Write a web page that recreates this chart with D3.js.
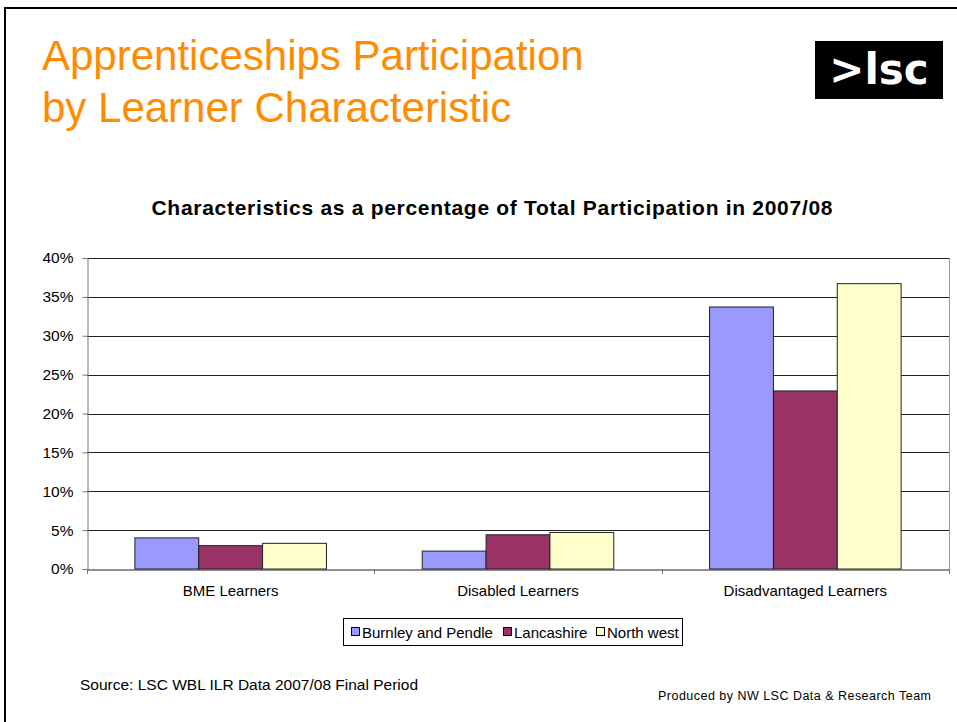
<!DOCTYPE html>
<html>
<head>
<meta charset="utf-8">
<script src="https://cdn.jsdelivr.net/npm/d3@7"></script>
<style>
  body { margin: 0; background: #fff; }
  svg { display: block; font-family: "Liberation Sans", Arial, sans-serif; }
</style>
</head>
<body>
<script>
// chart data
var categories = ['BME Learners', 'Disabled Learners', 'Disadvantaged Learners'];
var seriesNames = ['Burnley and Pendle', 'Lancashire', 'North west'];
var seriesColors = ['#9999FF', '#993366', '#FFFFCC'];
var burnley = [4.0, 2.3, 33.7];
var lancashire = [3.0, 4.4, 22.9];
var northWest = [3.3, 4.7, 36.7];
var yTicks = [0, 5, 10, 15, 20, 25, 30, 35, 40];

var svgWidth = 957;
var svgHeight = 722;

var svg = d3.select('body').append('svg')
  .attr('width', svgWidth)
  .attr('height', svgHeight);

// slide frame
svg.append('path')
  .attr('d', 'M5,722 L5,8 L957,8')
  .attr('fill', 'none')
  .attr('stroke', '#000')
  .attr('stroke-width', 2);

// slide title
var title = svg.append('text')
  .attr('fill', '#FF8C00')
  .style('font-size', '42px');
title.append('tspan').attr('x', 42).attr('y', 70).text('Apprenticeships Participation');
title.append('tspan').attr('x', 42).attr('y', 122).text('by Learner Characteristic');

// logo
svg.append('rect')
  .attr('x', 815).attr('y', 41)
  .attr('width', 128).attr('height', 58)
  .attr('fill', '#000');
svg.append('text')
  .attr('x', 879).attr('y', 84)
  .attr('text-anchor', 'middle')
  .attr('fill', '#fff')
  .style('font-size', '42px')
  .style('font-weight', 'bold')
  .style('font-family', 'Verdana, "DejaVu Sans", sans-serif')
  .text('>lsc');

// chart title
svg.append('text')
  .attr('x', 492).attr('y', 215)
  .attr('text-anchor', 'middle')
  .style('font-size', '21px')
  .style('font-weight', 'bold')
  .attr('textLength', 681)
  .text('Characteristics as a percentage of Total Participation in 2007/08');

var plot = { left: 87, right: 949, top: 258, bottom: 569 };

var y = d3.scaleLinear().domain([0, 40]).range([plot.bottom, plot.top]);
var x0 = d3.scaleBand().domain(categories).range([plot.left, plot.right]);
var bw = x0.bandwidth();
var x1 = d3.scaleBand().domain(seriesNames).range([bw / 6, bw * 5 / 6]);

// plot area right border
svg.append('line')
  .attr('x1', plot.right + 0.5).attr('x2', plot.right + 0.5)
  .attr('y1', plot.top).attr('y2', plot.bottom)
  .attr('stroke', '#999');

// gridlines
svg.selectAll('.grid')
  .data(yTicks.slice(1))
  .enter()
  .append('line')
  .attr('class', 'grid')
  .attr('x1', plot.left).attr('x2', plot.right)
  .attr('y1', function(d) { return Math.round(y(d)) + 0.5; })
  .attr('y2', function(d) { return Math.round(y(d)) + 0.5; })
  .attr('stroke', '#222');

// bars
var rows = categories.map(function(c, i) {
  return [burnley[i], lancashire[i], northWest[i]];
});

var groups = svg.selectAll('.cat')
  .data(rows)
  .enter()
  .append('g')
  .attr('class', 'cat')
  .attr('transform', function(d, i) { return 'translate(' + x0(categories[i]) + ',0)'; });

groups.selectAll('rect')
  .data(function(d) { return d; })
  .enter()
  .append('rect')
  .attr('x', function(d, i) { return x1(seriesNames[i]); })
  .attr('y', function(d) { return y(d); })
  .attr('width', x1.bandwidth())
  .attr('height', function(d) { return plot.bottom - y(d); })
  .attr('fill', function(d, i) { return seriesColors[i]; })
  .attr('stroke', '#222')
  .attr('stroke-width', 1);

// y axis
var yAxis = svg.append('g')
  .attr('transform', 'translate(' + (plot.left + 0.5) + ',0)')
  .call(d3.axisLeft(y).tickValues(yTicks).tickSize(5).tickFormat(function(d) { return d + '%'; }));
yAxis.select('.domain').attr('stroke', '#777');
yAxis.selectAll('.tick line').attr('stroke', '#777');
yAxis.selectAll('text')
  .attr('x', -14)
  .style('font-size', '15.5px')
  .style('font-family', '"Liberation Sans", Arial, sans-serif')
  .attr('fill', '#000');

// x axis
var xAxis = svg.append('g')
  .attr('transform', 'translate(0,' + (plot.bottom + 0.5) + ')')
  .call(d3.axisBottom(x0).tickSize(0).tickSizeOuter(0));
xAxis.select('.domain').attr('stroke', '#222');
xAxis.selectAll('text')
  .attr('y', 16)
  .style('font-size', '15px')
  .style('font-family', '"Liberation Sans", Arial, sans-serif')
  .attr('fill', '#000');

// category separator ticks
var sepX = categories.map(function(c) { return x0(c); }).concat([plot.right]);
svg.selectAll('.sep')
  .data(sepX)
  .enter()
  .append('line')
  .attr('class', 'sep')
  .attr('x1', function(d) { return Math.round(d) + 0.5; })
  .attr('x2', function(d) { return Math.round(d) + 0.5; })
  .attr('y1', plot.bottom)
  .attr('y2', plot.bottom + 5)
  .attr('stroke', '#777');

// legend
svg.append('rect')
  .attr('x', 343.5).attr('y', 618.5)
  .attr('width', 339).attr('height', 27)
  .attr('fill', '#fff')
  .attr('stroke', '#000');

var legendX = [351, 503, 596];
var legend = svg.selectAll('.leg')
  .data(seriesNames)
  .enter()
  .append('g')
  .attr('class', 'leg')
  .attr('transform', function(d, i) { return 'translate(' + legendX[i] + ',632)'; });
legend.append('rect')
  .attr('x', 0.5).attr('y', -4.5)
  .attr('width', 8).attr('height', 8)
  .attr('fill', function(d, i) { return seriesColors[i]; })
  .attr('stroke', '#000');
legend.append('text')
  .attr('x', 11).attr('y', 5.5)
  .style('font-size', '15px')
  .text(function(d) { return d; });

// footer
svg.append('text')
  .attr('x', 80).attr('y', 690)
  .style('font-size', '15.5px')
  .text('Source: LSC WBL ILR Data 2007/08 Final Period');
svg.append('text')
  .attr('x', 658).attr('y', 700)
  .style('font-size', '12.5px')
  .attr('textLength', 273)
  .text('Produced by NW LSC Data & Research Team');
</script>
</body>
</html>
